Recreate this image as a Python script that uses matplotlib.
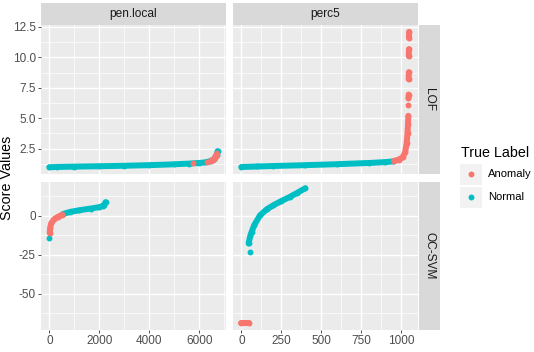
import numpy as np
import matplotlib
matplotlib.use("Agg")
import matplotlib.pyplot as plt
from matplotlib.patches import Rectangle
from matplotlib.ticker import MultipleLocator, FormatStrFormatter

plt.rcParams['font.family'] = ['Liberation Sans', 'DejaVu Sans']
plt.rcParams['axes.unicode_minus'] = False

nan = np.nan

col_names = ["pen.local", "perc5"]
row_names = ["LOF", "OC-SVM"]
labels = ["Anomaly", "Normal"]
colors = {"Anomaly": "#F8766D", "Normal": "#00BFC4"}

# sorted score curves (nan = gap between point groups)
pen_lof_norm_x = [0, 300, 1000, 2000, 3000, 4000, 5000, 5600, 6000, 6250, 6450, 6600, 6700, 6740]
pen_lof_norm_y = [0.98, 1.0, 1.03, 1.06, 1.1, 1.15, 1.22, 1.28, 1.33, 1.38, 1.48, 1.65, 2.0, 2.3]
pen_lof_anom_x = [5750, nan, 6300, nan, 6480, 6560, 6620, 6680, 6720]
pen_lof_anom_y = [1.3, nan, 1.42, nan, 1.52, 1.6, 1.72, 1.9, 2.1]

pen_svm_norm_x = [0, nan, 540, 845, 1200, 1650, 2000, 2150, 2200, 2250]
pen_svm_norm_y = [-14, nan, 1.2, 2.6, 3.6, 4.7, 5.6, 6.4, 7.2, 8.8]
pen_svm_anom_x = [10, 30, 80, 200, 350, 520]
pen_svm_anom_y = [-11, -7.5, -4.5, -2, -0.5, 0.8]

perc_lof_norm_x = [0, 100, 200, 400, 600, 800, 900, 950]
perc_lof_norm_y = [1.0, 1.04, 1.08, 1.15, 1.23, 1.33, 1.4, 1.46]
perc_lof_anom_x = [955, 985, 1010, 1025, 1035, 1040, 1043, 1045, nan, 1046, nan,
                   1046, 1047, nan, 1047, 1048, nan, 1048, 1049, nan, 1049, 1050]
perc_lof_anom_y = [1.5, 1.6, 1.8, 2.2, 3.0, 3.8, 4.5, 5.2, nan, 6.05, nan,
                   6.65, 6.95, nan, 8.2, 8.78, nan, 10.1, 10.68, nan, 11.6, 12.1]

perc_svm_norm_x = [52, nan, 45, 55, 64, 80, 117, 160, 200, 250, 304, 350, 400]
perc_svm_norm_y = [-23, nan, -17.7, -13, -10.3, -6, 0.4, 4.3, 6.8, 9.5, 12.2, 14.8, 17.7]
perc_svm_anom_x = [0, 50]
perc_svm_anom_y = [-68.8, -68.8]

data = {
    (0, 0): {"Normal": (pen_lof_norm_x, pen_lof_norm_y), "Anomaly": (pen_lof_anom_x, pen_lof_anom_y)},
    (1, 0): {"Normal": (pen_svm_norm_x, pen_svm_norm_y), "Anomaly": (pen_svm_anom_x, pen_svm_anom_y)},
    (0, 1): {"Normal": (perc_lof_norm_x, perc_lof_norm_y), "Anomaly": (perc_lof_anom_x, perc_lof_anom_y)},
    (1, 1): {"Normal": (perc_svm_norm_x, perc_svm_norm_y), "Anomaly": (perc_svm_anom_x, perc_svm_anom_y)},
}

W, H = 534, 352
fig = plt.figure(figsize=(W / 100, H / 100), dpi=100)


def box(x0, y0, x1, y1):
    return [x0 / W, 1 - y1 / H, (x1 - x0) / W, (y1 - y0) / H]


col_px = [(41, 226), (233, 417.5)]
row_px = [(25, 174), (181.5, 330)]
x_major = [2000, 250]
y_major = [2.5, 25]

MS = 18
LW = 4.3

axes = {}
for r in range(2):
    for c in range(2):
        sx = axes[(0, c)] if r == 1 else None
        sy = axes[(r, 0)] if c == 1 else None
        ax = fig.add_axes(box(col_px[c][0], row_px[r][0], col_px[c][1], row_px[r][1]),
                          sharex=sx, sharey=sy)
        axes[(r, c)] = ax
        ax.set_facecolor("#EBEBEB")
        for s in ax.spines.values():
            s.set_visible(False)
        for lab in ["Normal", "Anomaly"]:
            x, y = data[(r, c)][lab]
            ax.plot(x, y, color=colors[lab], lw=LW, solid_capstyle="round", zorder=3)
            ax.scatter(x, y, s=MS, color=colors[lab], linewidths=0, zorder=3)
        ax.xaxis.set_major_locator(MultipleLocator(x_major[c]))
        ax.xaxis.set_minor_locator(MultipleLocator(x_major[c] / 2))
        ax.yaxis.set_major_locator(MultipleLocator(y_major[r]))
        ax.yaxis.set_minor_locator(MultipleLocator(y_major[r] / 2))
        ax.grid(which="major", color="white", lw=1.0)
        ax.grid(which="minor", color="white", lw=0.5)
        ax.set_axisbelow(True)
        ax.tick_params(which="minor", length=0)
        ax.tick_params(which="major", length=2.2, width=0.6, color="#333333",
                       labelsize=8.5, labelcolor="#4D4D4D", pad=1.5)
        if r == 0:
            ax.tick_params(axis="x", length=0, labelbottom=False)
        if c == 1:
            ax.tick_params(axis="y", length=0, labelleft=False)

axes[(0, 0)].yaxis.set_major_formatter(FormatStrFormatter("%.1f"))

# strips
for c in range(2):
    sa = fig.add_axes(box(col_px[c][0], 3, col_px[c][1], 25))
    sa.set_facecolor("#D9D9D9")
    sa.set_xticks([]); sa.set_yticks([])
    for s in sa.spines.values():
        s.set_visible(False)
    sa.text(0.5, 0.5, col_names[c], ha="center", va="center", fontsize=8.6, color="#1A1A1A",
            transform=sa.transAxes)
for r in range(2):
    sa = fig.add_axes(box(418.5, row_px[r][0], 440, row_px[r][1]))
    sa.set_facecolor("#D9D9D9")
    sa.set_xticks([]); sa.set_yticks([])
    for s in sa.spines.values():
        s.set_visible(False)
    sa.text(0.5, 0.5, row_names[r], ha="center", va="center", fontsize=8.6, color="#1A1A1A",
            rotation=-90, transform=sa.transAxes)

fig.text(7.5 / W, 1 - 177.5 / H, "Score Values", rotation=90, ha="center", va="center",
         fontsize=10.3, color="black")

# legend
lg = fig.add_axes([0, 0, 1, 1])
lg.set_xlim(0, W)
lg.set_ylim(H, 0)
lg.axis("off")
lg.text(461, 153, "True Label", ha="left", va="center", fontsize=10.3, color="black")
for i, lab in enumerate(labels):
    y0 = 163 + i * 23
    lg.add_patch(Rectangle((459, y0), 23, 22, facecolor="#F2F2F2", edgecolor="white", lw=0.8))
    lg.scatter([470.5], [y0 + 11], s=MS, color=colors[lab], linewidths=0)
    lg.text(488, y0 + 11, lab, ha="left", va="center", fontsize=8.1, color="black")

fig.savefig("out.png", dpi=100)
